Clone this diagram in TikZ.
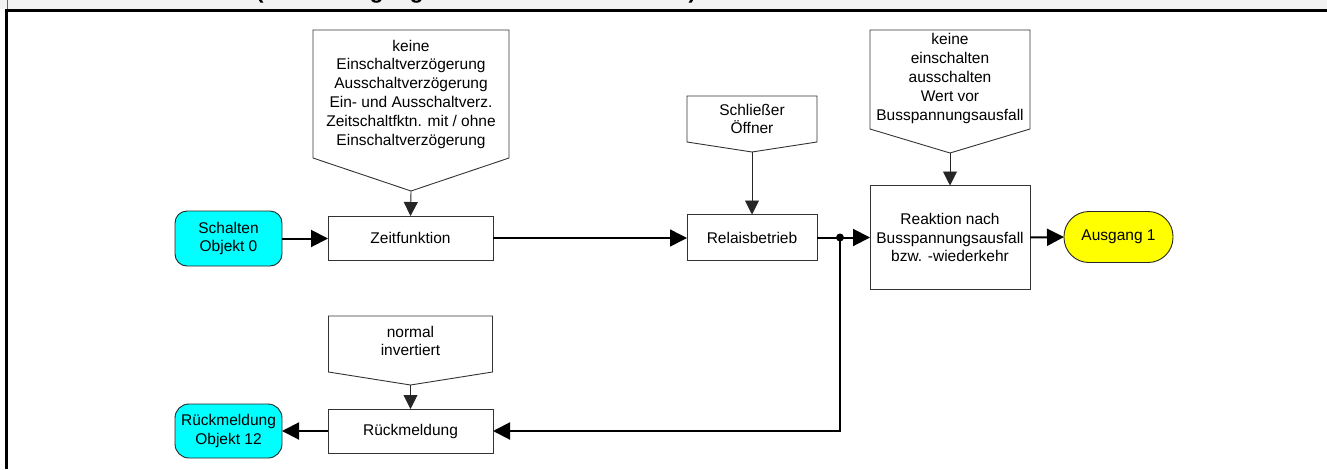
\documentclass[tikz,border=0pt]{standalone}
\usepackage{fontspec}
\setmainfont{Liberation Sans}
\usetikzlibrary{arrows.meta}
\definecolor{objcyan}{HTML}{00FFFF}
\definecolor{objyellow}{HTML}{FFFF00}
\definecolor{hdrgray}{HTML}{F2F2F2}
\begin{document}
\begin{tikzpicture}[x=1pt,y=-1pt,
  txt/.style={align=center, inner sep=0pt, outer sep=0pt, font=\fontsize{15.5}{18.8}\selectfont},
  box/.style={txt, draw=black!80, line width=0.9pt, fill=white},
  objbox/.style={txt, draw=black!85, line width=0.9pt},
  pent/.style={txt},
  pentline/.style={draw=black!80, line width=0.9pt, fill=white},
  arr/.style={-{Triangle[length=17pt,width=17pt]}, line width=2pt},
  midarr/.style={-{Triangle[length=17pt,width=17pt]}, line width=1.5pt},
  thinarr/.style={-{Triangle[length=14pt,width=14pt]}, line width=0.9pt, draw=black!85}
]
\useasboundingbox (0,0) rectangle (1327,469);
% header band
\fill[hdrgray] (0,0) rectangle (1327,9);
\begin{scope}
  \clip (0,0) rectangle (1327,8.5);
  \node[anchor=base west, inner sep=0pt, font=\bfseries\fontsize{22.5}{27}\selectfont] (hdr) at (256,-1.5) {(Schaltausgang Kanal A mit Zeitfunktion)};
\end{scope}
\draw[black!60, line width=0.6pt] (7,0) -- (7,9);
\draw[line width=3pt] (5,10) -- (1327,10);
\draw[line width=3pt] (6.5,8.5) -- (6.5,469);

% pentagons
\node[pent, minimum width=196pt, minimum height=128pt] (zfp) at (411,94) {};
\draw[pentline] (zfp.north west) -- (zfp.south west) -- ([yshift=-33pt]zfp.south) coordinate (zft) -- (zfp.south east) -- (zfp.north east) -- cycle;
\node[txt] at (zfp.center) {keine\\Einschaltverzögerung\\Ausschaltverzögerung\\Ein- und Ausschaltverz.\\Zeitschaltfktn. mit / ohne\\Einschaltverzögerung};

\node[pent, minimum width=130pt, minimum height=46pt] (rbp) at (752,119) {};
\draw[pentline] (rbp.north west) -- (rbp.south west) -- ([yshift=-10pt]rbp.south) coordinate (rbt) -- (rbp.south east) -- (rbp.north east) -- cycle;
\node[txt] at (rbp.center) {Schließer\\Öffner};

\node[pent, minimum width=160pt, minimum height=99pt] (rkp) at (950,79.5) {};
\draw[pentline] (rkp.north west) -- (rkp.south west) -- ([yshift=-24pt]rkp.south) coordinate (rkt) -- (rkp.south east) -- (rkp.north east) -- cycle;
\node[txt] at ([yshift=1pt]rkp.center) {keine\\einschalten\\ausschalten\\Wert vor\\Busspannungsausfall};

\node[pent, minimum width=164pt, minimum height=56pt] (rmp) at (410.5,344) {};
\draw[pentline] (rmp.north west) -- (rmp.south west) -- ([yshift=-13pt]rmp.south) coordinate (rmt) -- (rmp.south east) -- (rmp.north east) -- cycle;
\node[txt] at ([yshift=3pt]rmp.center) {normal\\invertiert};

% boxes
\node[box, minimum width=165pt, minimum height=44pt] (zf) at (410.5,238) {Zeitfunktion};
\node[box, minimum width=130pt, minimum height=46pt] (rb) at (752,237.5) {Relaisbetrieb};
\node[box, minimum width=160pt, minimum height=104pt] (rk) at (950,237.5) {Reaktion nach\\Busspannungsausfall\\bzw. -wiederkehr};
\node[box, minimum width=165pt, minimum height=44pt] (rm) at (410.5,431) {Rückmeldung};

% objects
\node[objbox, fill=objcyan, rounded corners=12pt, minimum width=107pt, minimum height=55pt] (sch) at (228.5,238.5) {Schalten\\Objekt 0};
\node[objbox, fill=objcyan, rounded corners=14pt, minimum width=107pt, minimum height=54pt] (rmo) at (228.5,431) {Rückmeldung\\Objekt 12};
\node[objbox, fill=objyellow, rounded corners=25pt, minimum width=109pt, minimum height=51pt] (aus) at (1118.5,237) {Ausgang 1};

% connectors
\draw[thinarr] (zft) -- (zf.north);
\draw[thinarr] (rbt) -- (rb.north);
\draw[thinarr] (rkt) -- (rk.north);
\draw[thinarr] (rmt) -- (rm.north);

\draw[arr] (sch.east) -- (sch.east -| zf.west);
\draw[midarr] (zf.east) -- (zf.east -| rb.west);
\coordinate (jn) at (840,237.5);
\draw[line width=2pt] (rb.east) -- (jn);
\draw[arr] (jn) -- (rk.west);
\draw[arr] (jn) |- (rm.east);
\fill (jn) circle (4pt);
\draw[arr] (rm.west) -- (rmo.east);
\draw[arr] (rk.east) -- (aus.west);
\end{tikzpicture}
\end{document}
